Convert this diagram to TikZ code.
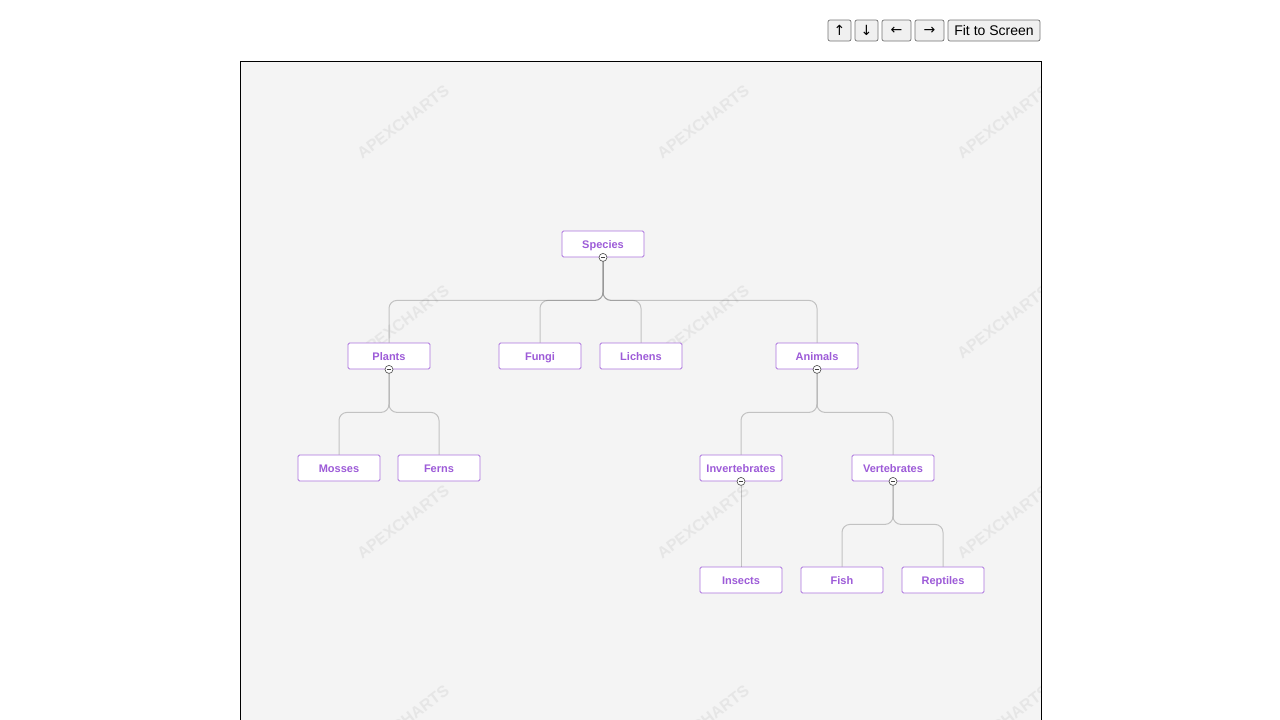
\documentclass[tikz,border=0pt]{standalone}
\usepackage{fontspec}
\setmainfont{Liberation Sans}
\newfontfamily\arrowfont{DejaVu Sans}
\definecolor{purp}{HTML}{9D5BD8}
\definecolor{panel}{HTML}{F4F4F4}
\definecolor{wmark}{HTML}{E6E6E6}
\tikzset{N/.style={draw=purp!85, fill=white, rounded corners=1.5pt, line width=0.8pt,
    minimum width=82pt, minimum height=26pt, inner sep=0pt, text=purp,
    text height=8pt, text depth=0pt,
    font=\fontsize{11}{13}\selectfont\bfseries}}
\tikzset{E/.style={draw=black!60, draw opacity=0.35, line width=1pt, rounded corners=8pt}}
\tikzset{K/.style={circle, draw=black!70, fill=white, line width=0.6pt, minimum size=8pt, inner sep=0pt,
    path picture={\draw[black!75, line width=0.6pt] ([xshift=-2.2pt]path picture bounding box.center) -- ([xshift=2.2pt]path picture bounding box.center);}}}
\tikzset{W/.style={text=wmark, rotate=37, font=\fontsize{16}{18}\selectfont\bfseries}}
\tikzset{Btn/.style={draw=black!55, fill=black!6, rounded corners=2pt, line width=0.7pt,
    minimum height=21pt, inner sep=0pt, font=\fontsize{14}{16}\selectfont}}

\begin{document}
\begin{tikzpicture}[x=1pt, y=-1pt]
    \useasboundingbox (0,0) rectangle (1280,720);
    % panel
    \fill[panel] (240.5,61.5) rectangle (1041.5,720);
    \begin{scope}
        \clip (240.5,61.5) rectangle (1041.5,720);
        \foreach \wx in {403,703,1003}
            \foreach \wy in {122,322,522,722}
                \node[W] (wm-\wx-\wy) at (\wx,\wy) {APEXCHARTS};
    \end{scope}
    \draw[black, line width=1pt] (240.5,721) -- (240.5,61.5) -- (1041.5,61.5) -- (1041.5,721);

    % buttons
    \node[Btn, minimum width=23pt] (up) at (839.5,30.5) {\arrowfont ↑};
    \node[Btn, minimum width=23pt] (down) at (866.5,30.5) {\arrowfont ↓};
    \node[Btn, minimum width=29pt] (left) at (896.5,30.5) {\arrowfont ←};
    \node[Btn, minimum width=29pt] (right) at (929.5,30.5) {\arrowfont →};
    \node[Btn, minimum width=92pt] (fit) at (994,30.5) {Fit to Screen};

    % tree
    \node[N] (species) at (603,244) {Species};
    \node[N] (plants) at (389,356) {Plants};
    \node[N] (fungi) at (540,356) {Fungi};
    \node[N] (lichens) at (641,356) {Lichens};
    \node[N] (animals) at (817,356) {Animals};
    \node[N] (mosses) at (339,468) {Mosses};
    \node[N] (ferns) at (439,468) {Ferns};
    \node[N] (invertebrates) at (741,468) {Invertebrates};
    \node[N] (vertebrates) at (893,468) {Vertebrates};
    \node[N] (insects) at (741,580) {Insects};
    \node[N] (fish) at (842,580) {Fish};
    \node[N] (reptiles) at (943,580) {Reptiles};

    \foreach \p/\c in {species/plants, species/fungi, species/lichens, species/animals,
                       plants/mosses, plants/ferns, animals/invertebrates, animals/vertebrates,
                       vertebrates/fish, vertebrates/reptiles}
        \draw[E] (\p.south) -- ++(0,43) -| (\c.north);
    \draw[E] (invertebrates.south) -- (insects.north);

    \foreach \p in {species, plants, animals, invertebrates, vertebrates}
        \node[K] (\p-knob) at (\p.south) {};
\end{tikzpicture}
\end{document}
